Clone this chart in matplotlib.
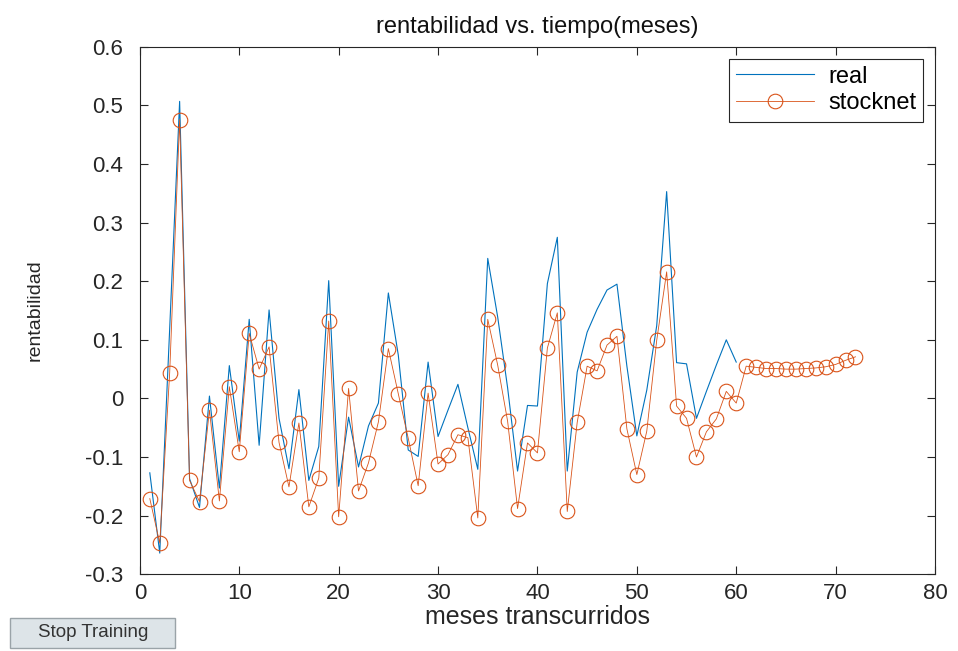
import matplotlib
matplotlib.use("Agg")
import matplotlib.pyplot as plt
from matplotlib.patches import Rectangle
from matplotlib.ticker import FixedLocator, FixedFormatter

plt.rcParams["font.family"] = ["Liberation Sans", "DejaVu Sans"]

# meses (eje x)
meses_real = list(range(1, 61))
meses_stocknet = list(range(1, 73))

real = [
    -0.127, -0.264, 0.119, 0.507, -0.137, -0.186, 0.004, -0.153, 0.056, -0.073,
    0.135, -0.080, 0.151, -0.034, -0.120, 0.015, -0.140, -0.082, 0.201, -0.150,
    -0.032, -0.117, -0.047, -0.008, 0.180, 0.074, -0.088, -0.099, 0.062, -0.065,
    -0.020, 0.024, -0.050, -0.121, 0.239, 0.139, 0.018, -0.124, -0.012, -0.013,
    0.196, 0.275, -0.124, 0.045, 0.113, 0.152, 0.185, 0.195, 0.055, -0.064,
    0.014, 0.124, 0.353, 0.061, 0.059, -0.034, 0.012, 0.057, 0.100, 0.062,
]

stocknet = [
    -0.171, -0.247, 0.044, 0.476, -0.140, -0.176, -0.020, -0.175, 0.020, -0.091,
    0.111, 0.050, 0.088, -0.075, -0.151, -0.042, -0.185, -0.136, 0.132, -0.202,
    0.017, -0.158, -0.110, -0.040, 0.085, 0.008, -0.068, -0.149, 0.009, -0.112,
    -0.096, -0.062, -0.067, -0.204, 0.135, 0.057, -0.039, -0.188, -0.076, -0.093,
    0.086, 0.146, -0.193, -0.041, 0.055, 0.047, 0.091, 0.106, -0.052, -0.130,
    -0.056, 0.099, 0.216, -0.013, -0.034, -0.100, -0.057, -0.035, 0.012, -0.008,
    0.055, 0.053, 0.051, 0.051, 0.050, 0.050, 0.051, 0.052, 0.054, 0.058,
    0.065, 0.071,
]

xticks = [0, 10, 20, 30, 40, 50, 60, 70, 80]
yticks = [-0.3, -0.2, -0.1, 0, 0.1, 0.2, 0.3, 0.4, 0.5, 0.6]
ytick_labels = ["-0.3", "-0.2", "-0.1", "0", "0.1", "0.2", "0.3", "0.4", "0.5", "0.6"]

AX_COLOR = "#262626"

fig = plt.figure(figsize=(9.58, 6.51), dpi=100)
ax = fig.add_axes([0.146, 0.118, 0.830, 0.810])

ax.plot(meses_real, real, color="#0072BD", linewidth=0.8, label="real")
ax.plot(meses_stocknet, stocknet, color="#D95319", linewidth=0.6,
        marker="o", markersize=10.5, markerfacecolor="none",
        markeredgewidth=0.8, label="stocknet")

ax.set_xlim(0, 80)
ax.set_ylim(-0.3, 0.6)
ax.xaxis.set_major_locator(FixedLocator(xticks))
ax.yaxis.set_major_locator(FixedLocator(yticks))
ax.yaxis.set_major_formatter(FixedFormatter(ytick_labels))

ax.tick_params(direction="in", length=6, width=0.8, top=True, right=True,
               labelsize=16, colors=AX_COLOR)
ax.tick_params(axis="y", pad=12)
ax.tick_params(axis="x", pad=6)
for s in ax.spines.values():
    s.set_color(AX_COLOR)
    s.set_linewidth(0.8)

ax.set_title("rentabilidad vs. tiempo(meses)", fontsize=17, color="#111111", pad=10)
ax.set_xlabel("meses transcurridos", fontsize=18, color=AX_COLOR, labelpad=1)
ax.set_ylabel("rentabilidad", fontsize=14, color=AX_COLOR, labelpad=30)

leg = ax.legend(loc="upper right", fontsize=17, handlelength=3.3,
                fancybox=False, framealpha=1, edgecolor=AX_COLOR,
                borderaxespad=0.5, handletextpad=0.6, labelspacing=0.2,
                borderpad=0.3)
leg.get_frame().set_linewidth(0.8)

# botón de la GUI de entrenamiento
fig.patches.append(Rectangle((0.0104, 0.005), 0.172, 0.046,
                             transform=fig.transFigure, facecolor="#dde4e8",
                             edgecolor="#9aa3a8", linewidth=1))
fig.text(0.097, 0.028, "Stop Training", ha="center", va="center",
         fontsize=13.5, color="#333333")

fig.savefig("out.png", dpi=100)
